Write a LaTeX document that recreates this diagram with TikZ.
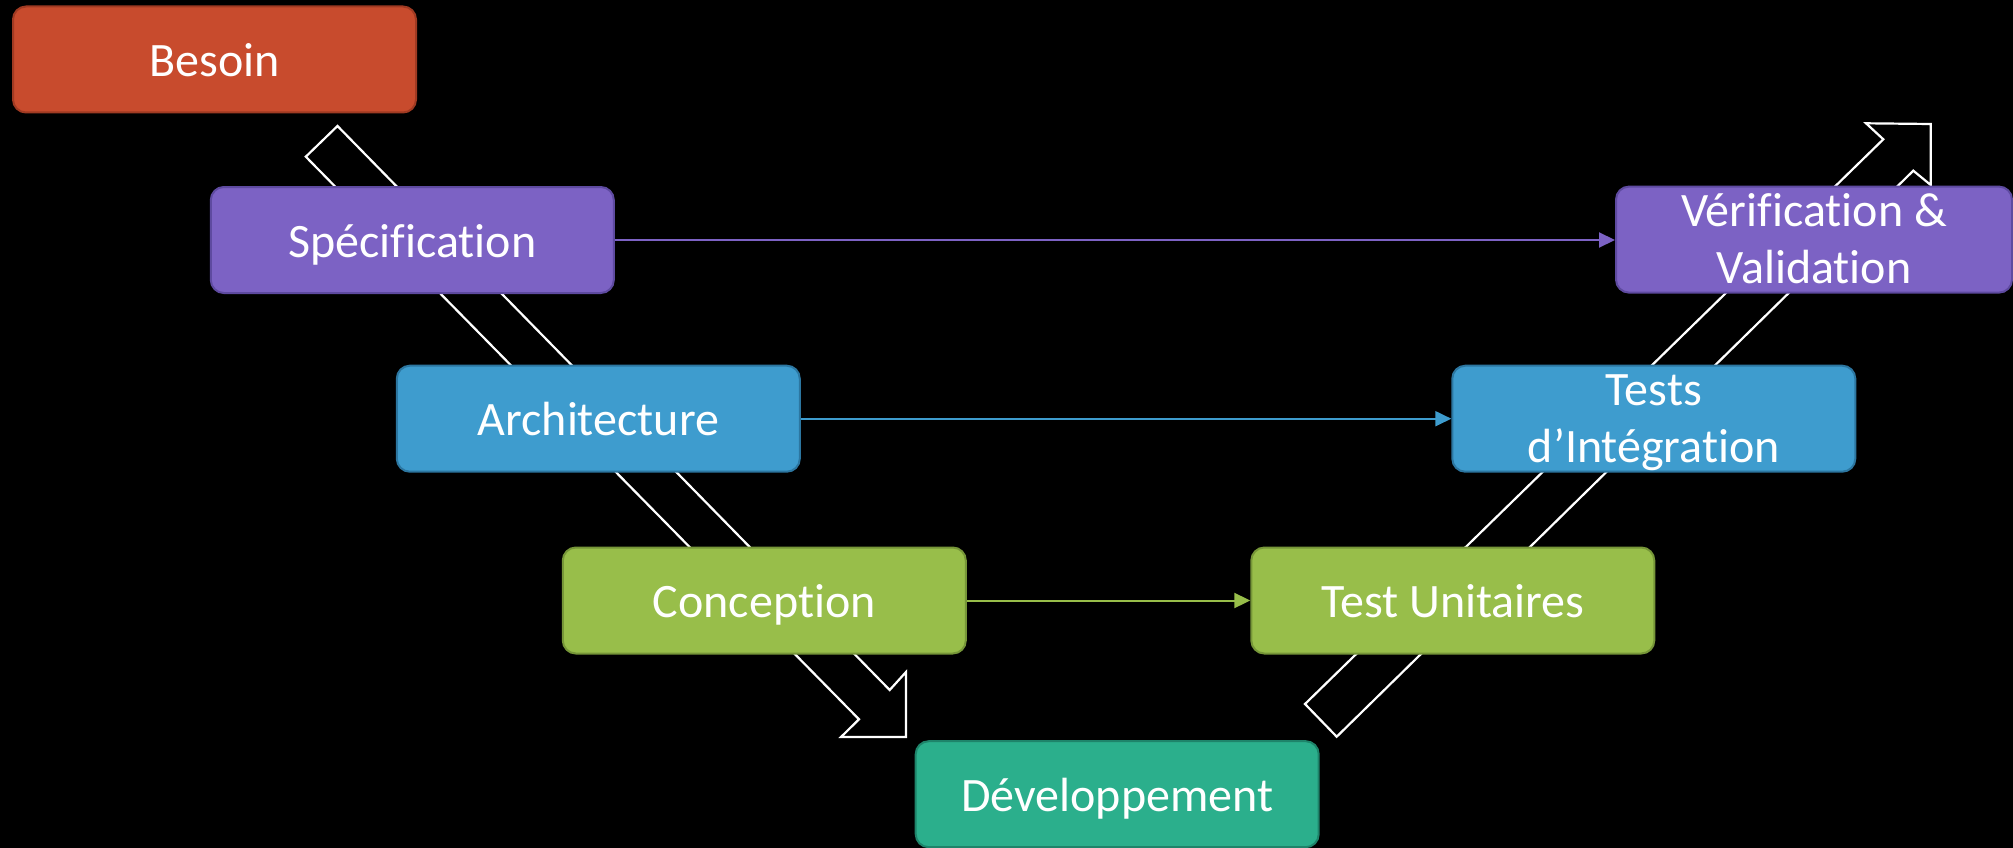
\documentclass[tikz,border=0pt]{standalone}
\usepackage{fontspec}
\setmainfont{Carlito}[Ligatures=NoCommon]
\usetikzlibrary{arrows.meta}
\definecolor{cRed}{RGB}{200,75,45}
\definecolor{cRedD}{RGB}{160,58,34}
\definecolor{cPur}{RGB}{124,98,196}
\definecolor{cPurD}{RGB}{94,74,160}
\definecolor{cBlu}{RGB}{62,156,206}
\definecolor{cBluD}{RGB}{44,118,160}
\definecolor{cGrn}{RGB}{152,190,74}
\definecolor{cGrnD}{RGB}{118,150,56}
\definecolor{cTeal}{RGB}{43,175,140}
\definecolor{cTealD}{RGB}{30,132,106}
\begin{document}
\begin{tikzpicture}[x=1pt,y=-1pt,
  box/.style={rounded corners=13pt, minimum width=403pt, minimum height=106pt,
    line width=2pt, text=white, font=\fontsize{48}{57}\selectfont,
    align=center, inner sep=0pt, text height=34pt, text depth=0pt},
  twoline/.style={text height=88pt, text depth=0pt},
  bigarrow/.style={draw=white, line width=2.2pt, line join=miter, fill=black},
  link/.style={line width=2pt, -{Triangle[length=16pt,width=15pt]}}
]
\fill[black] (0,0) rectangle (2013,848);
\useasboundingbox (0,0) rectangle (2013,848);

% big hollow arrows
\draw[bigarrow] (337.5,126) -- (889.7,690) -- (906,672) -- (906,737) -- (841,737)
  -- (859,719.3) -- (305.8,156.7) -- cycle;
\draw[bigarrow] (1305,704) -- (1883.3,139.3) -- (1866,123.3) -- (1930.7,124)
  -- (1930.7,185) -- (1913.3,170.7) -- (1336.7,736.7) -- cycle;

% boxes
\node[box, fill=cRed, draw=cRedD] (besoin) at (214.5,59.5) {Besoin};
\node[box, fill=cPur, draw=cPurD] (spec) at (412.3,240) {Spécification};
\node[box, fill=cBlu, draw=cBluD] (archi) at (598.3,418.7) {Architecture};
\node[box, fill=cGrn, draw=cGrnD] (conc) at (764.3,600.5) {Conception};
\node[box, fill=cTeal, draw=cTealD] (dev) at (1117.2,794.2) {Développement};
\node[box, fill=cGrn, draw=cGrnD] (tu) at (1452.8,600.5) {Test Unitaires};
\node[box, twoline, fill=cBlu, draw=cBluD] (ti) at (1653.8,418.7) {Tests\\d’Intégration};
\node[box, twoline, fill=cPur, draw=cPurD, minimum width=396pt] (vv) at (1814,239.6) {Vérification \&\\Validation};

% connectors
\draw[link, cPur] (spec.east) -- (spec.east -| vv.west);
\draw[link, cBlu] (archi.east) -- (archi.east -| ti.west);
\draw[link, cGrn] (conc.east) -- (conc.east -| tu.west);
\end{tikzpicture}
\end{document}
